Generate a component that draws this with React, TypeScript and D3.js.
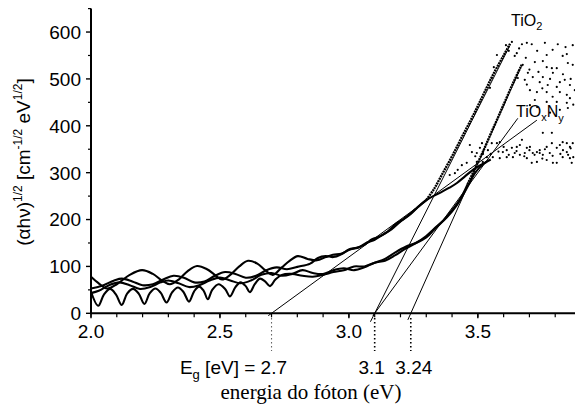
import * as d3 from "d3";

const W = 575;
const H = 408;

// axis ticks
const xTicks = [2.0, 2.5, 3.0, 3.5];
const yTicks = [0, 100, 200, 300, 400, 500, 600];

// band gap markers read from the bottom annotations
const egValues = [2.7, 3.1, 3.24];

// tangent lines: Eg where they cross zero, upper end, how far they run below the axis
const tangentEg = [3.1, 3.24, 3.1, 2.7];
const tangentTop: [number, number][] = [
  [3.624, 571],
  [3.67, 529],
  [3.655, 416],
  [3.729, 412],
];
const tangentBelow = [-18, -14, -5, -5];

// TiOxNy film 1 (upper, large fringes)
const u1: [number, number][] = [
  [2.0, 78], [2.03, 64], [2.062, 53], [2.1, 62], [2.15, 82], [2.198, 92], [2.24, 84],
  [2.275, 70], [2.306, 62], [2.34, 72], [2.375, 90], [2.411, 101], [2.45, 94], [2.48, 82],
  [2.508, 72], [2.54, 82], [2.575, 100], [2.609, 112], [2.645, 106], [2.675, 92], [2.705, 82],
  [2.74, 98], [2.77, 112], [2.802, 122], [2.84, 116], [2.876, 113], [2.91, 120], [2.938, 125],
  [2.97, 127], [3.004, 136], [3.04, 141], [3.07, 151], [3.1, 157], [3.132, 168], [3.165, 179],
  [3.198, 195], [3.23, 209], [3.264, 225], [3.314, 246], [3.353, 257], [3.39, 268],
  [3.419, 278], [3.45, 292], [3.481, 306], [3.51, 316], [3.535, 323],
];

// TiO2 film 1 (upper pair, fringe part)
const u2: [number, number][] = [
  [2.0, 53], [2.04, 58], [2.09, 70], [2.12, 74], [2.16, 68], [2.2, 60], [2.24, 62],
  [2.28, 72], [2.32, 80], [2.36, 76], [2.4, 66], [2.44, 68], [2.48, 80], [2.52, 88],
  [2.56, 84], [2.6, 76], [2.64, 80], [2.68, 92], [2.72, 98], [2.76, 94], [2.8, 99],
  [2.85, 106], [2.88, 118], [2.91, 122], [2.94, 120], [2.97, 126], [3.0, 136], [3.03, 140],
  [3.06, 146], [3.09, 158], [3.12, 164], [3.15, 174], [3.18, 190], [3.21, 200], [3.24, 212],
  [3.27, 228], [3.3, 242],
];
// TiO2 film 1, steep dotted rise
const u2Rise: [number, number][] = [
  [3.3, 242], [3.33, 265], [3.36, 295], [3.4, 335], [3.44, 378], [3.48, 420], [3.52, 465],
  [3.56, 510], [3.6, 550], [3.625, 575],
];

// TiOxNy film 2 (lower pair)
const l1: [number, number][] = [
  [2.0, 43], [2.03, 48], [2.07, 60], [2.11, 66], [2.15, 60], [2.19, 52], [2.23, 56],
  [2.27, 66], [2.3, 70], [2.34, 64], [2.38, 56], [2.42, 60], [2.46, 70], [2.5, 76],
  [2.54, 70], [2.58, 64], [2.62, 70], [2.66, 82], [2.7, 86], [2.74, 80], [2.78, 84],
  [2.82, 92], [2.86, 86], [2.9, 84], [2.94, 92], [2.98, 96], [3.02, 92], [3.06, 98],
  [3.1, 108], [3.14, 112], [3.18, 124], [3.22, 138], [3.26, 150], [3.3, 165], [3.34, 185],
  [3.38, 205], [3.42, 232], [3.46, 270], [3.49, 300], [3.52, 318], [3.55, 328],
];

// TiO2 film 2 (deep cusped fringes)
const l2: [number, number][] = [
  [2.0, 46], [2.028, 16], [2.05, 40], [2.074, 52], [2.097, 40], [2.119, 18], [2.14, 42],
  [2.163, 52], [2.185, 42], [2.207, 20], [2.228, 43], [2.25, 53], [2.27, 44], [2.293, 23],
  [2.315, 45], [2.337, 55], [2.358, 46], [2.38, 25], [2.4, 47], [2.419, 57], [2.437, 48],
  [2.453, 30], [2.47, 50], [2.495, 62], [2.52, 52], [2.539, 36], [2.56, 56], [2.58, 66],
  [2.6, 58], [2.616, 45], [2.635, 62], [2.655, 74], [2.675, 68], [2.694, 58], [2.715, 72],
  [2.74, 82], [2.78, 84], [2.82, 80], [2.86, 78], [2.9, 82], [2.94, 88], [2.98, 92],
  [3.02, 100], [3.06, 100], [3.1, 108], [3.14, 116], [3.18, 130], [3.22, 142], [3.26, 150],
  [3.3, 162], [3.33, 178], [3.37, 200], [3.4, 220], [3.43, 242], [3.46, 275],
];
const l2Rise: [number, number][] = [
  [3.46, 275], [3.49, 310], [3.52, 345], [3.55, 383], [3.58, 420], [3.61, 458], [3.64, 495],
  [3.67, 530],
];

// saturated, noisy region of the TiO2 films
const tio2Cloud: [number, number][] = [
  [3.609, 572], [3.632, 579], [3.671, 574], [3.69, 577], [3.709, 574], [3.76, 577], [3.81, 574],
  [3.868, 572], [3.574, 551], [3.651, 555], [3.643, 549], [3.686, 545], [3.767, 551],
  [3.829, 549], [3.845, 553], [3.721, 536], [3.752, 538], [3.767, 525], [3.787, 523],
  [3.806, 523], [3.849, 534], [3.868, 530], [3.674, 530], [3.694, 513], [3.713, 504],
  [3.682, 498], [3.655, 502], [3.752, 504], [3.791, 513], [3.818, 493], [3.837, 498],
  [3.857, 487], [3.806, 483], [3.771, 487], [3.74, 493], [3.767, 472], [3.818, 472],
  [3.845, 466], [3.876, 476], [3.702, 476], [3.729, 472], [3.721, 455], [3.702, 444],
  [3.767, 451], [3.806, 451], [3.845, 449], [3.857, 459], [3.818, 434], [3.849, 438],
  [3.562, 525], [3.554, 502], [3.547, 481], [3.62, 560], [3.66, 565], [3.73, 560],
  [3.79, 562], [3.84, 568], [3.7, 520], [3.735, 515], [3.78, 500], [3.83, 510], [3.86, 500],
  [3.69, 488], [3.75, 480], [3.79, 462], [3.73, 440], [3.78, 428], [3.87, 445],
];

// saturated, noisy region of the TiOxNy films
const tioxnyCloud: [number, number][] = [
  [3.469, 359], [3.477, 344], [3.496, 342], [3.508, 353], [3.516, 363], [3.539, 348],
  [3.554, 363], [3.574, 363], [3.585, 365], [3.597, 344], [3.612, 348], [3.632, 353],
  [3.651, 355], [3.663, 359], [3.671, 370], [3.69, 353], [3.702, 355], [3.713, 342],
  [3.729, 344], [3.74, 342], [3.752, 338], [3.767, 355], [3.787, 363], [3.806, 353],
  [3.818, 359], [3.829, 365], [3.845, 363], [3.857, 355], [3.868, 363], [3.752, 385],
  [3.787, 385], [3.612, 333], [3.636, 333], [3.663, 338], [3.69, 331], [3.709, 321],
  [3.729, 323], [3.767, 327], [3.791, 321], [3.806, 321], [3.829, 333], [3.857, 331],
  [3.864, 321], [3.558, 333], [3.585, 331], [3.519, 323], [3.496, 323], [3.457, 321],
  [3.438, 316], [3.422, 306], [3.411, 299], [3.391, 295], [3.535, 333], [3.643, 342],
  [3.682, 342], [3.74, 348], [3.779, 342], [3.845, 344], [3.58, 345], [3.62, 338],
  [3.65, 346], [3.68, 335], [3.72, 338], [3.75, 330], [3.79, 336], [3.82, 340], [3.85, 338],
  [3.87, 333], [3.6, 355], [3.7, 348], [3.76, 350], [3.83, 348], [3.55, 340], [3.52, 340],
  [3.49, 335], [3.86, 352],
];

const sans = "'Liberation Sans', Arial, sans-serif";
const serif = "'Liberation Serif', 'Times New Roman', serif";

export default function App() {
  const x = d3.scaleLinear().domain([2.0, 3.9]).range([91, 581]);
  const y = d3.scaleLinear().domain([0, 650]).range([313.3, 8.6]);

  const smooth = d3
    .line<[number, number]>()
    .x((d) => x(d[0]))
    .y((d) => y(d[1]))
    .curve(d3.curveCatmullRom.alpha(0.5));

  const xMinor = d3.range(2.0, 3.85, 0.1);
  const yMinor = d3.range(50, 700, 100);

  const tangents = tangentEg.map((eg, i) => {
    const [tx, ty] = tangentTop[i];
    const slope = ty / (tx - eg);
    const bx = eg + tangentBelow[i] / slope;
    return { x1: x(bx), y1: y(tangentBelow[i]), x2: x(tx), y2: y(ty) };
  });

  return (
    <svg
      width={W}
      height={H}
      style={{ position: "absolute", left: 0, top: 0, background: "#fff" }}
    >
      {/* fringe curves */}
      <g fill="none" stroke="#000" strokeWidth={2.1} strokeLinejoin="round">
        <path d={smooth(u1) ?? ""} />
        <path d={smooth(u2) ?? ""} />
        <path d={smooth(l1) ?? ""} />
        <path d={smooth(l2) ?? ""} />
      </g>
      {/* steep absorption edge, drawn as dense dots */}
      <g fill="none" stroke="#000" strokeWidth={2.4} strokeDasharray="2 0.7">
        <path d={smooth(u2Rise) ?? ""} />
        <path d={smooth(l2Rise) ?? ""} />
      </g>
      <g fill="#000">
        {tio2Cloud.map((d, i) => (
          <circle key={"a" + i} cx={x(d[0])} cy={y(d[1])} r={1.1} />
        ))}
        {tioxnyCloud.map((d, i) => (
          <circle key={"b" + i} cx={x(d[0])} cy={y(d[1])} r={1.1} />
        ))}
      </g>

      {/* tangent lines */}
      <g stroke="#000" strokeWidth={1}>
        {tangents.map((t, i) => (
          <line key={i} {...t} />
        ))}
      </g>

      {/* dotted drop lines to Eg labels */}
      {egValues.map((e, i) => (
        <line
          key={e}
          x1={x(e)}
          x2={x(e)}
          y1={318}
          y2={351}
          stroke={i === 0 ? "#666" : "#000"}
          strokeWidth={i === 0 ? 1.1 : 1.6}
          strokeDasharray="1.6 2.4"
        />
      ))}

      {/* axes */}
      <g stroke="#000">
        <line x1={x(2.0)} x2={W} y1={y(0)} y2={y(0)} strokeWidth={2} />
        <line x1={x(2.0)} x2={x(2.0)} y1={y(0) + 1} y2={y(650)} strokeWidth={2} />
        {xMinor.map((t) => (
          <line key={"xm" + t} x1={x(t)} x2={x(t)} y1={y(0)} y2={y(0) + 4} strokeWidth={1.2} />
        ))}
        {xTicks.map((t) => (
          <line key={"xt" + t} x1={x(t)} x2={x(t)} y1={y(0)} y2={y(0) + 5} strokeWidth={1.4} />
        ))}
        {yTicks.map((t) => (
          <line key={"yt" + t} x1={x(2.0) - 5} x2={x(2.0)} y1={y(t)} y2={y(t)} strokeWidth={1.4} />
        ))}
        {yMinor.map((t) => (
          <line key={"ym" + t} x1={x(2.0) - 3} x2={x(2.0)} y1={y(t)} y2={y(t)} strokeWidth={1.2} />
        ))}
      </g>

      <g fontFamily={sans} fontSize={19} fill="#000">
        {xTicks.map((t) => (
          <text key={"xl" + t} x={x(t)} y={338} textAnchor="middle">
            {t.toFixed(1)}
          </text>
        ))}
        {yTicks.map((t) => (
          <text key={"yl" + t} x={81} y={y(t)} dy="0.36em" textAnchor="end">
            {t}
          </text>
        ))}

        {/* y axis title */}
        <text transform="translate(30,162) rotate(-90)" textAnchor="middle">
          <tspan>(αhν)</tspan>
          <tspan fontSize={12} dy={-8}>1/2</tspan>
          <tspan dy={8}> [cm</tspan>
          <tspan fontSize={12} dy={-8}>-1/2</tspan>
          <tspan dy={8}> eV</tspan>
          <tspan fontSize={12} dy={-8}>1/2</tspan>
          <tspan dy={8}>]</tspan>
        </text>

        {/* Eg annotations */}
        <text x={287} y={374} textAnchor="end">
          <tspan>E</tspan>
          <tspan fontSize={13} dy={5}>g</tspan>
          <tspan dy={-5}> [eV] = 2.7</tspan>
        </text>
        <text x={x(3.1) - 3} y={374} textAnchor="middle">3.1</text>
        <text x={x(3.24) + 3} y={374} textAnchor="middle">3.24</text>
      </g>

      {/* series labels */}
      <g fontFamily={sans} fontSize={16} fill="#000">
        <text x={511} y={26}>
          <tspan>TiO</tspan>
          <tspan fontSize={11} dy={4}>2</tspan>
        </text>
        <text x={516} y={117}>
          <tspan>TiO</tspan>
          <tspan fontSize={11} dy={4}>x</tspan>
          <tspan dy={-4}>N</tspan>
          <tspan fontSize={11} dy={5}>y</tspan>
        </text>
      </g>

      <text x={311} y={399} textAnchor="middle" fontFamily={serif} fontSize={21} fill="#000">
        energia do fóton (eV)
      </text>
    </svg>
  );
}
